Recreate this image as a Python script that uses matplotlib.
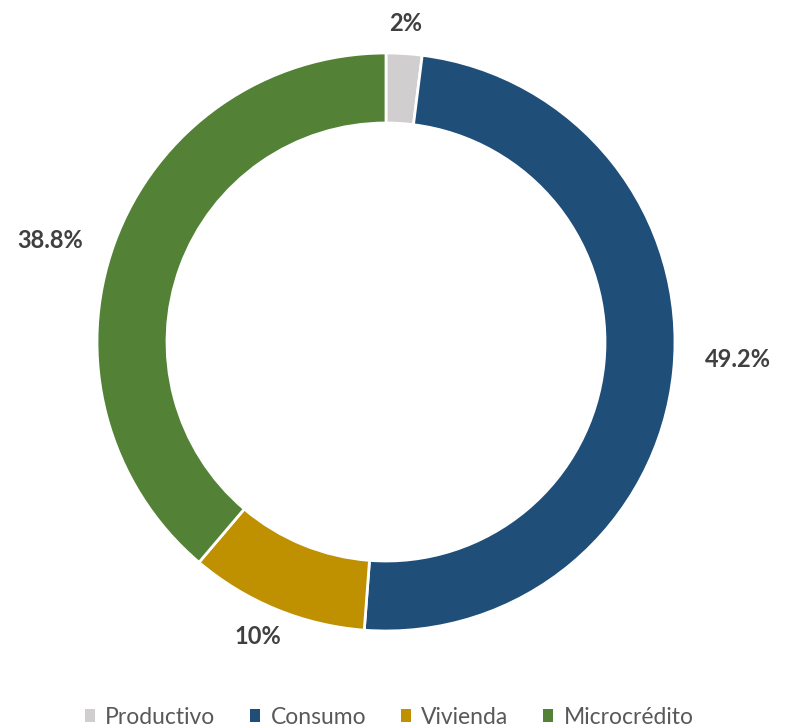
import numpy as np
import matplotlib.pyplot as plt
from matplotlib.patches import Patch

categories = ["Productivo", "Consumo", "Vivienda", "Microcrédito"]
shares = [2, 49.2, 10, 38.8]
value_labels = ["2%", "49.2%", "10%", "38.8%"]
colors = ["#D0CECE", "#1F4E79", "#BF9000", "#538135"]
# value label placement: distance (fraction of outer radius) and angle nudge in degrees
label_dist = [1.105, 1.22, 1.11, 1.215]
label_nudge = [0, 2.9, -1.2, 3.3]

plt.rcParams["font.family"] = ["Lato", "DejaVu Sans"]

fig = plt.figure(figsize=(7.99, 7.28), dpi=100)
ax = fig.add_axes([0, 0, 1, 1])

cx, cy, r = 386, 386, 289
wedges, _ = ax.pie(shares, colors=colors, startangle=90, counterclock=False,
                   center=(cx, cy), radius=r, frame=True,
                   wedgeprops=dict(width=70, edgecolor="white", linewidth=2))
ax.set_xlim(0, 799)
ax.set_ylim(0, 728)
ax.set_aspect("equal")
ax.axis("off")

for w, txt, d, nudge in zip(wedges, value_labels, label_dist, label_nudge):
    ang = np.deg2rad((w.theta1 + w.theta2) / 2 + nudge)
    ax.text(cx + d * r * np.cos(ang), cy + d * r * np.sin(ang), txt,
            ha="center", va="center", fontsize=17, fontweight="bold",
            color="#404040")

handles = [Patch(facecolor=c, edgecolor="none") for c in colors]
fig.legend(handles, categories, loc="lower center", ncol=4, frameon=False,
           bbox_to_anchor=(0.487, -0.028), handlelength=0.45,
           handleheight=0.45, handletextpad=0.45, columnspacing=1.5,
           labelcolor="#595959", prop=dict(size=16.5))

fig.savefig("out.png", dpi=100)
